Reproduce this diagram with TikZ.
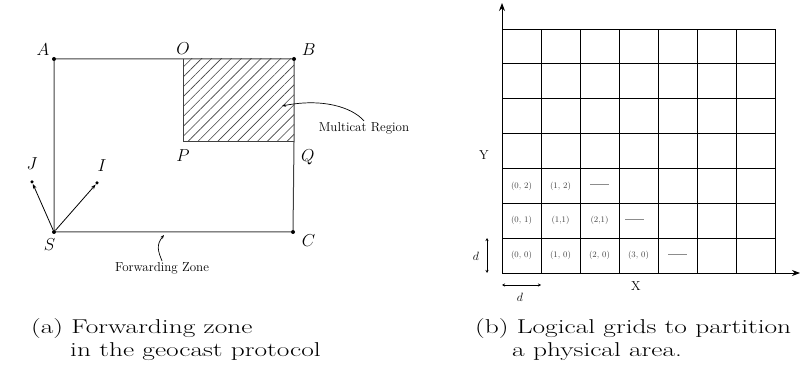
\documentclass[tikz,border=0pt]{standalone}
\usepackage{tikz}
\usetikzlibrary{positioning, arrows.meta, patterns.meta, calc}
\newcommand{\capfont}  {\fontsize{20pt}{22pt}\selectfont}
\newcommand{\ptfont}   {\fontsize{19pt}{20pt}\selectfont}
\newcommand{\notefont} {\fontsize{13pt}{15pt}\selectfont}
\newcommand{\cellfont} {\fontsize{8.5pt}{9pt}\selectfont}
\newcommand{\widecap}[1]{\scalebox{1.37}[1]{#1}}
\newcommand{\celldash}{\rule[2.6pt]{19pt}{0.5pt}}
\tikzset{
  % corner point of the zone
  dot/.style={circle, fill=black, inner sep=0pt, minimum size=4pt},
  % point name
  ptlabel/.style={font=\ptfont\itshape, inner sep=1pt},
  % zone borders
  border/.style={line width=1pt, color=black!75},
  % pointer from a note to its region
  pointer/.style={-{Stealth[length=4pt, width=3pt]}, line width=0.7pt},
  % arrows from S
  arr/.style={-{Stealth[length=5pt, width=3.5pt]}, line width=0.8pt},
  % grid lines and axes
  gridline/.style={line width=0.9pt},
  axis/.style={-{Stealth[length=8pt, width=6pt]}, line width=0.9pt},
  dim/.style={{Stealth[length=3pt, width=3pt]}-{Stealth[length=3pt, width=3pt]}, line width=0.6pt},
  cell/.style={font=\cellfont, text=black!75, inner sep=0pt},
  celldots/.style={cell, text=black!45},
  caption/.style={font=\capfont, anchor=base west, inner sep=0pt},
}

\begin{document}
\begin{tikzpicture}[x=1pt, y=1pt]
  \useasboundingbox (0,0) rectangle (800,369);

  % ---------- (a) forwarding zone ----------
  \node[dot] (A) at (54,310) {};
  \node[dot] (B) at (294,310) {};
  \node[dot] (C) at (293,137) {};
  \node[dot] (S) at (54,137) {};
  \node[dot, minimum size=3.5pt] (J) at (32,187) {};
  \node[dot, minimum size=3.5pt] (I) at (97,186) {};
  \coordinate (O) at (183,310);
  \coordinate (P) at (183,227);
  \coordinate (Q) at (294,227);

  % multicast region
  \fill[pattern={Lines[angle=45, distance=7pt, line width=0.6pt]}, pattern color=black!75]
    (O) rectangle (Q);
  \draw[border] (O) -- (P) -- (Q);

  \draw[border] (A) -- (B) -- (Q) -- (C) -- (S) -- (A);
  \draw[arr] (S) -- (J);
  \draw[arr] (S) -- (I);

  \node[ptlabel, above left=1pt and 2pt of A] {$A$};
  \node[ptlabel, above=3pt of O] {$O$};
  \node[ptlabel, above right=1pt and 5pt of B] {$B$};
  \node[ptlabel, below=6pt of P] {$P$};
  \node[ptlabel, below right=6pt and 6pt of Q] {$Q$};
  \node[ptlabel, below right=0pt and 6pt of C] {$C$};
  \node[ptlabel, below left=4pt and -4pt of S] {$S$};
  \node[ptlabel, above=9pt of J] {$J$};
  \node[ptlabel, above right=9pt and -2pt of I] {$I$};

  \node[font=\notefont, inner sep=1pt] (mr) at (364,241) {Multicat Region};
  \coordinate (mrpt) at (282,263);
  \draw[pointer] (mr.north) .. controls (352,262) and (322,271) .. (mrpt);

  \node[font=\notefont, inner sep=1pt] (fz) at (162,101) {Forwarding Zone};
  \coordinate (fzpt) at (164,134);
  \draw[pointer] (fz.north) .. controls (158,118) and (156,124) .. (fzpt);

  % ---------- (b) logical grids ----------
  \coordinate (org) at (502,96);
  \foreach \i in {0,...,7} {
    \draw[gridline] ($(org)+(\i*39,0)$) -- ++(0,244);
    \draw[gridline] ($(org)+(0,\i*34.857)$) -- ++(273,0);
  }
  \coordinate (xend) at (800,96);
  \coordinate (yend) at (502,366);
  \draw[axis] (org) -- (xend);
  \draw[axis] (org) -- (yend);

  \node[font=\notefont] (ylab) at (484,214) {Y};
  \node[font=\notefont] (xlab) at (636,83) {X};

  % cell names
  \foreach \x/\y/\t in {0/0/{(0, 0)}, 1/0/{(1, 0)}, 2/0/{(2, 0)}, 3/0/{(3, 0)},
                       0/1/{(0, 1)}, 1/1/{(1,1)}, 2/1/{(2,1)},
                       0/2/{(0, 2)}, 1/2/{(1, 2)}}
    \node[cell] (c\x\y) at ($(org)+(\x*39+19.5,\y*34.857+17.4)$) {\t};
  \node[celldots] (dots0) at ($(org)+(4.5*39,17.4)$) {\celldash};
  \node[celldots] (dots1) at ($(org)+(3.4*39,34.857+17.4)$) {\celldash};
  \node[celldots] (dots2) at ($(org)+(2.5*39,2*34.857+17.4)$) {\celldash};

  % cell size
  \coordinate (dv1) at (487,96);
  \coordinate (dv2) at (487,131);
  \draw[dim] (dv1) -- (dv2);
  \node[font=\notefont\itshape] (dvl) at (476,113) {$d$};
  \coordinate (dh1) at (502,84);
  \coordinate (dh2) at (541,84);
  \draw[dim] (dh1) -- (dh2);
  \node[font=\notefont\itshape] (dhl) at (520,72) {$d$};

  % ---------- captions ----------
  \node[caption] (capa1) at (31,35) {\widecap{(a) Forwarding zone}};
  \node[caption] (capa2) at (70,12) {\widecap{in the geocast protocol}};
  \node[caption] (capb1) at (475,35) {\widecap{(b) Logical grids to partition}};
  \node[caption] (capb2) at (512,12) {\widecap{a physical area.}};
\end{tikzpicture}
\end{document}
